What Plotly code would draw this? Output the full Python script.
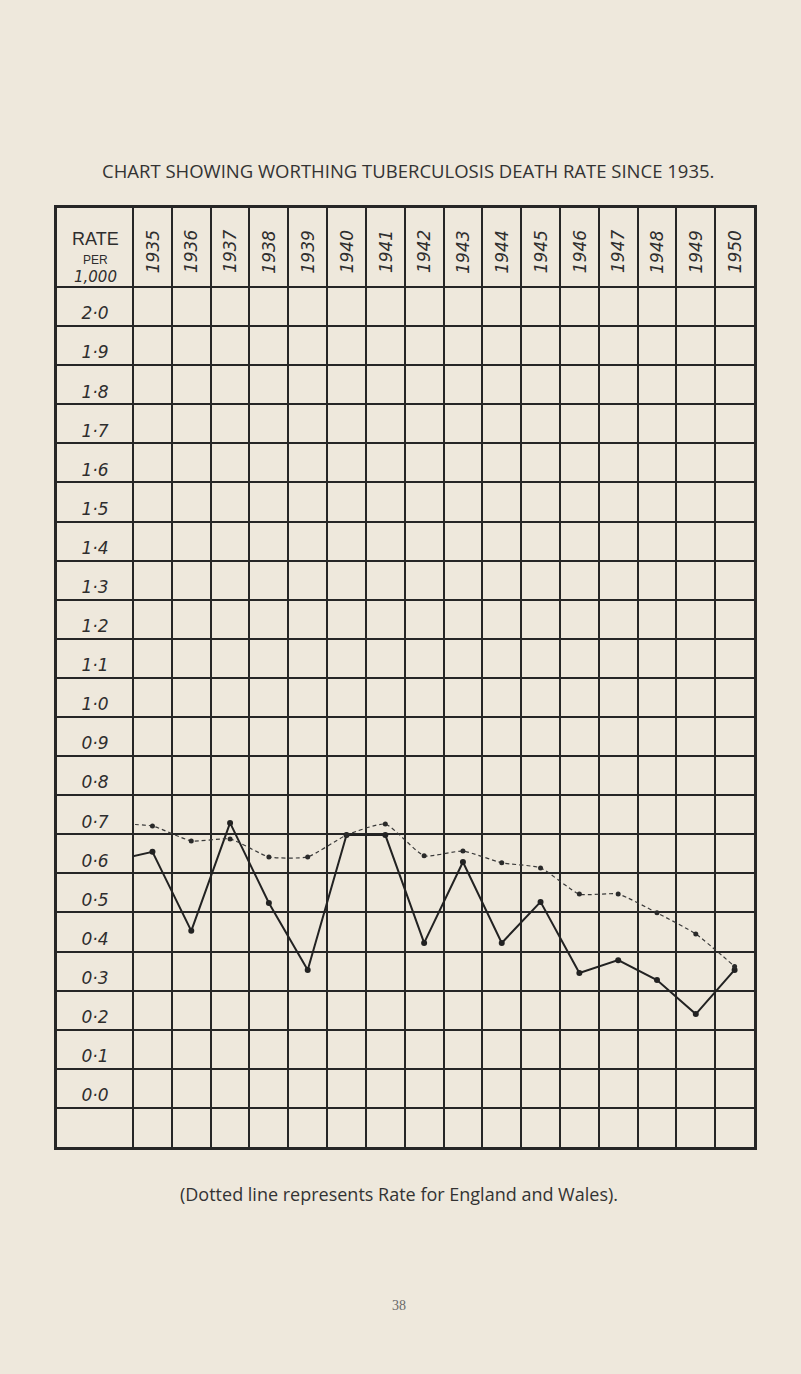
import plotly.graph_objects as go

# ---------------- data ----------------
years = [1934, 1935, 1936, 1937, 1938, 1939, 1940, 1941, 1942, 1943,
         1944, 1945, 1946, 1947, 1948, 1949, 1950]
# Worthing death rate per 1,000 (solid line); 1934 value only enters from the edge
worthing = [0.633, 0.655, 0.453, 0.729, 0.524, 0.353, 0.698, 0.698, 0.422, 0.629,
            0.422, 0.527, 0.345, 0.378, 0.327, 0.240, 0.353]
# England and Wales rate per 1,000 (dotted line)
england_wales = [0.727, 0.721, 0.683, 0.688, 0.642, 0.642, 0.698, 0.726, 0.645, 0.657,
                 0.627, 0.614, 0.547, 0.547, 0.499, 0.445, 0.362]

year_labels = [str(y) for y in range(1935, 1951)]
row_values = [round(2.0 - 0.1 * i, 1) for i in range(21)]
row_labels = [f"{v:.1f}".replace(".", "·") for v in row_values]

title = "CHART SHOWING WORTHING TUBERCULOSIS DEATH RATE SINCE 1935."
footnote = "(Dotted line represents Rate for England and Wales)."
page_no = "38"

# ---------------- layout constants ----------------
W, H = 801, 1374
ML, MR, MT, MB = 57, 47, 208, 227
X_MIN, X_MAX = 1932.54, 1950.5
Y_MIN, Y_MAX = -0.1, 2.302
HEADER_Y = 2.19
LABEL_X = 1933.52
data_domain_start = (1934.5 - X_MIN) / (X_MAX - X_MIN)
plot_h = H - MT - MB


def py(px):
    """paper fraction for a vertical page position"""
    return (H - MB - px) / plot_h


ink = "#262626"
paper = "#eee8dc"
hand_font = dict(family="DejaVu Sans", size=17, color="#2e2e2e", style="italic")

fig = go.Figure()

# Worthing solid line
fig.add_trace(go.Scatter(
    x=years, y=worthing, xaxis="x2", yaxis="y", mode="lines+markers",
    line=dict(color="#222222", width=2),
    marker=dict(color="#222222", size=6),
    cliponaxis=True, showlegend=False, hoverinfo="skip"))

# England and Wales dotted line
fig.add_trace(go.Scatter(
    x=years, y=england_wales, xaxis="x2", yaxis="y", mode="lines+markers",
    line=dict(color="#3a3a3a", width=1.2, dash="4px,3px", shape="spline", smoothing=0.5),
    marker=dict(color="#2a2a2a", size=5),
    cliponaxis=True, showlegend=False, hoverinfo="skip"))

# row labels in the first column
fig.add_trace(go.Scatter(
    x=[LABEL_X] * len(row_values), y=[v + 0.028 for v in row_values],
    mode="text", text=row_labels, textfont=dict(family="DejaVu Sans", size=17,
                                                color="#2e2e2e", style="italic"),
    showlegend=False, hoverinfo="skip"))

annotations = []
for yr in year_labels:
    annotations.append(dict(x=int(yr), y=HEADER_Y, xref="x2", yref="y", text=yr,
                            textangle=-90, showarrow=False, font=hand_font))

# header of the first column
annotations += [
    dict(x=LABEL_X, y=2.222, xref="x", yref="y", text="RATE", showarrow=False,
         font=dict(family="Liberation Sans", size=18, color="#2e2e2e")),
    dict(x=LABEL_X, y=2.169, xref="x", yref="y", text="PER", showarrow=False,
         font=dict(family="Liberation Sans", size=12, color="#2e2e2e")),
    dict(x=LABEL_X, y=2.125, xref="x", yref="y", text="1,000", showarrow=False,
         font=dict(family="DejaVu Sans", size=15, color="#2e2e2e", style="italic")),
]

# title, footnote, page number
annotations += [
    dict(x=0.504, y=py(170), xref="paper", yref="paper", xanchor="center", yanchor="middle",
         text=title, showarrow=False, font=dict(family="Open Sans", size=18.5, color="#333333")),
    dict(x=0.49, y=py(1194), xref="paper", yref="paper", xanchor="center", yanchor="middle",
         text=footnote, showarrow=False, font=dict(family="Open Sans", size=18, color="#333333")),
    dict(x=0.49, y=py(1305), xref="paper", yref="paper", xanchor="center", yanchor="middle",
         text=page_no, showarrow=False, font=dict(family="Liberation Serif", size=14, color="#6a6a6a")),
]

grid_x = [1934.5 + i for i in range(17)]
grid_y = [round(-0.1 + 0.1 * i, 1) for i in range(23)]

fig.update_layout(
    width=W, height=H,
    margin=dict(l=ML, r=MR, t=MT, b=MB, pad=0),
    paper_bgcolor=paper, plot_bgcolor="rgba(0,0,0,0)",
    annotations=annotations,
    xaxis=dict(range=[X_MIN, X_MAX], tickvals=grid_x, showticklabels=False, ticks="",
               showgrid=True, gridcolor=ink, gridwidth=1.6, zeroline=False,
               showline=True, linecolor=ink, linewidth=2.6, mirror=True, domain=[0, 1],
               fixedrange=True),
    xaxis2=dict(range=[1934.5, X_MAX], domain=[data_domain_start, 1], anchor="y",
                visible=False, showgrid=False, zeroline=False, fixedrange=True),
    yaxis=dict(range=[Y_MIN, Y_MAX], tickvals=grid_y, showticklabels=False, ticks="",
               showgrid=True, gridcolor=ink, gridwidth=1.6, zeroline=False,
               showline=True, linecolor=ink, linewidth=2.6, mirror=True,
               fixedrange=True),
    showlegend=False,
)

fig.write_html(
    "out.html",
    config={"displayModeBar": False},
    post_script="document.body.style.margin='0';document.body.style.background='" + paper + "';",
)
